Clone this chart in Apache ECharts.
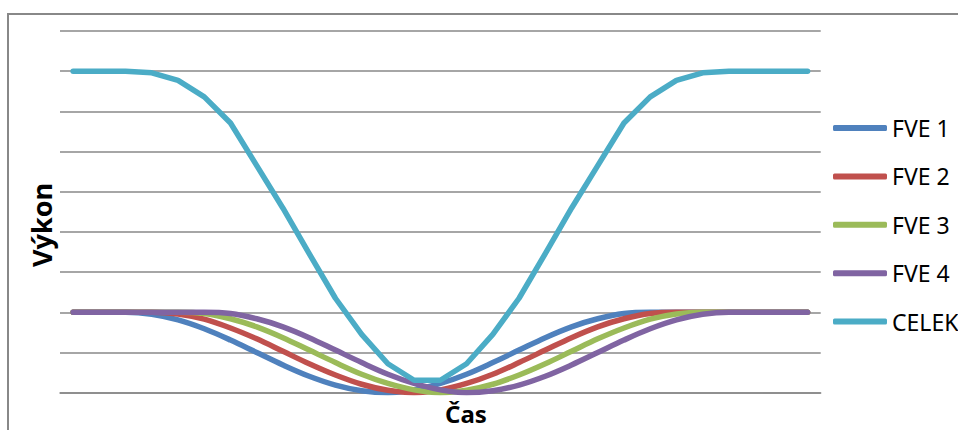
<!DOCTYPE html>
<html>
<head>
<meta charset="utf-8">
<script src="https://cdn.jsdelivr.net/npm/echarts@6/dist/echarts.min.js"></script>
<style>
html,body{margin:0;padding:0;background:#fff;}
#c{width:958px;height:430px;}
</style>
</head>
<body>
<div id="c"></div>
<script>
var categories = [1,2,3,4,5,6,7,8,9,10,11,12,13,14,15,16,17,18,19,20,21,22,23,24,25,26,27,28,29];
var seriesNames = ['FVE 1','FVE 2','FVE 3','FVE 4','CELEK'];
var fve1 = [2,2,2,1.95,1.81,1.59,1.31,1.0,0.69,0.41,0.19,0.05,0.0,0.07,0.23,0.46,0.75,1.06,1.37,1.64,1.84,1.97,2,2,2,2,2,2,2];
var fve2 = [2,2,2,2,1.96,1.83,1.61,1.34,1.03,0.72,0.44,0.21,0.06,0.0,0.07,0.23,0.46,0.75,1.06,1.37,1.64,1.84,1.97,2,2,2,2,2,2];
var fve3 = [2,2,2,2,2,1.97,1.84,1.64,1.37,1.06,0.75,0.46,0.23,0.07,0.0,0.06,0.21,0.44,0.72,1.03,1.34,1.61,1.83,1.96,2,2,2,2,2];
var fve4 = [2,2,2,2,2,2,1.97,1.84,1.64,1.37,1.06,0.75,0.46,0.23,0.07,0.0,0.05,0.19,0.41,0.69,1.0,1.31,1.59,1.81,1.95,2,2,2,2];
var celek = [8,8,8,7.96,7.77,7.36,6.71,5.65,4.59,3.46,2.35,1.45,0.72,0.31,0.31,0.72,1.45,2.35,3.46,4.59,5.65,6.71,7.36,7.77,7.96,8,8,8,8];
var colors = ['#4F81BD','#C0504D','#9BBB59','#8064A2','#4BACC6'];
var yTitle = 'Výkon';
var xTitle = 'Čas';

var chart = echarts.init(document.getElementById('c'), null, {renderer:'svg'});
var dataList = [fve1, fve2, fve3, fve4, celek];
var series = dataList.map(function(d, i){
  return {
    name: seriesNames[i],
    type: 'line',
    data: d,
    smooth: i < 4 ? 0.35 : false,
    showSymbol: false,
    symbol: 'none',
    lineStyle: {width: 5.5, color: colors[i], cap: 'round', join: 'round'},
    itemStyle: {color: colors[i]},
    z: 2 + i,
    animation: false
  };
});

chart.setOption({
  animation: false,
  color: colors,
  grid: {left: 60, right: 137.3, top: 31, bottom: 37.3},
  xAxis: {
    type: 'category',
    data: categories,
    boundaryGap: true,
    axisLine: {show: true, lineStyle: {color: '#888888', width: 1.5}},
    axisTick: {show: false},
    axisLabel: {show: false},
    splitLine: {show: false}
  },
  yAxis: {
    type: 'value',
    min: 0, max: 9, interval: 1,
    axisLine: {show: false},
    axisTick: {show: false},
    axisLabel: {show: false},
    splitLine: {show: true, lineStyle: {color: '#888888', width: 1.5}}
  },
  legend: {
    orient: 'vertical',
    left: 828,
    top: 111,
    padding: 5,
    itemWidth: 54,
    itemHeight: 6,
    itemGap: 24.4,
    icon: 'roundRect',
    textStyle: {fontFamily: 'Noto Sans', fontSize: 23, color: '#000', lineHeight: 24},
    data: seriesNames
  },
  graphic: [
    {type: 'rect', silent: true, shape: {x: 8, y: 14, width: 1000, height: 500},
     style: {fill: 'none', stroke: '#888888', lineWidth: 2}},
    {type: 'text', x: 41, y: 225, rotation: Math.PI/2,
     style: {text: yTitle, font: 'bold 27px "Noto Sans"', fill: '#000', align: 'center', verticalAlign: 'middle'}},
    {type: 'text', x: 466, y: 413,
     style: {text: xTitle, font: 'bold 24px "Noto Sans"', fill: '#000', align: 'center', verticalAlign: 'middle'}}
  ],
  series: series
});
</script>
</body>
</html>
